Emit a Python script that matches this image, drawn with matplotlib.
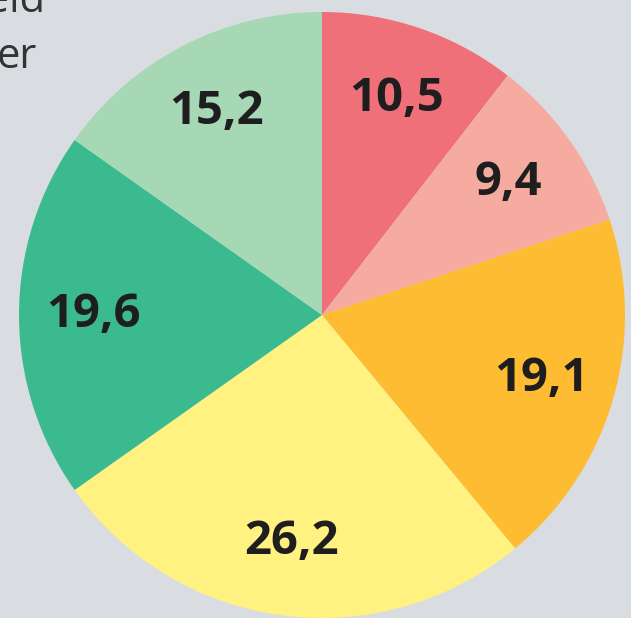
import numpy as np
import matplotlib.pyplot as plt

values = [10.5, 9.4, 19.1, 26.2, 19.6, 15.2]
labels = ['10,5', '9,4', '19,1', '26,2', '19,6', '15,2']
colors = ['#F0707A', '#F5ABA0', '#FDBC31', '#FFF281', '#3BBA90', '#A7D8B5']

bg = '#D9DCE0'
fig = plt.figure(figsize=(6.31, 6.18), dpi=100, facecolor=bg)

# partly cut-off text from the original layout
fig.text(-0.055, 1.033, 'veld', fontsize=30, color='#333333', ha='left', va='top',
         family='Open Sans')
fig.text(-0.006, 0.942, 'er', fontsize=30, color='#333333', ha='left', va='top',
         family='Open Sans')

ax = fig.add_axes([19 / 631, 0, 606 / 631, 606 / 618])
ax.set_facecolor(bg)
wedges, texts = ax.pie(values, colors=colors, startangle=90, counterclock=False,
                       radius=1, wedgeprops=dict(linewidth=0))
for w, lab in zip(wedges, labels):
    ang = np.deg2rad((w.theta1 + w.theta2) / 2)
    ax.text(0.755 * np.cos(ang), 0.755 * np.sin(ang), lab, ha='center', va='center',
            fontsize=34, fontweight='bold', color='#1E1E1E', family='Open Sans')
ax.set_xlim(-1, 1)
ax.set_ylim(-1, 1)
ax.set_aspect('equal')
ax.axis('off')

fig.savefig('out.png', dpi=100, facecolor=bg)
